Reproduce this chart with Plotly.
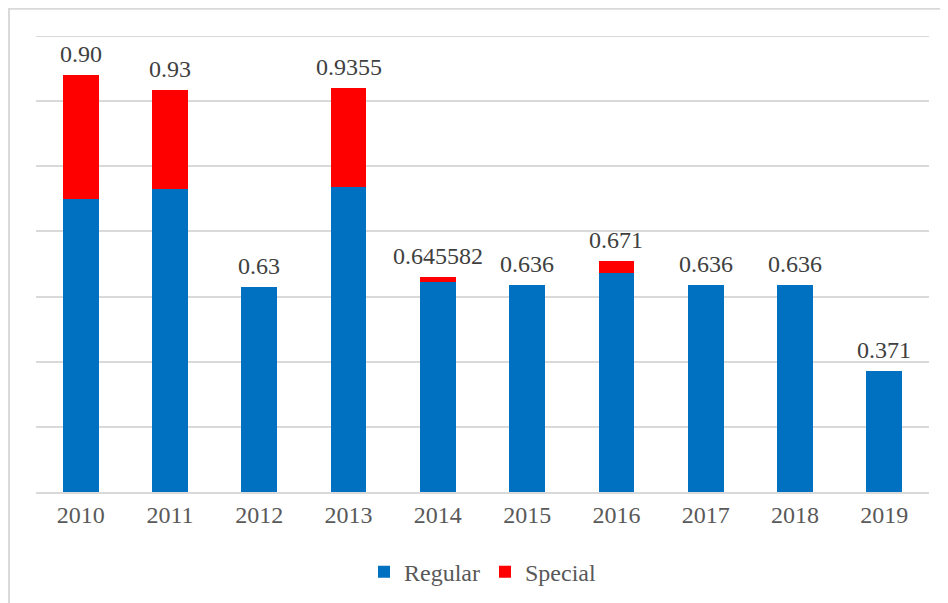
import plotly.graph_objects as go

years = ["2010", "2011", "2012", "2013", "2014", "2015", "2016", "2017", "2018", "2019"]
regular = [0.90, 0.93, 0.63, 0.9355, 0.645582, 0.636, 0.671, 0.636, 0.636, 0.371]
special = [0.38, 0.303, 0.0, 0.305, 0.013, 0.0, 0.038, 0.0, 0.0, 0.0]
labels = ["0.90", "0.93", "0.63", "0.9355", "0.645582", "0.636", "0.671", "0.636", "0.636", "0.371"]
grid_vals = [0.2, 0.4, 0.6, 0.8, 1.0, 1.2, 1.4]

FONT = "Liberation Serif"

fig = go.Figure()
fig.add_trace(go.Bar(x=years, y=regular, name="Regular", marker=dict(color="#0070C0", line=dict(width=0))))
fig.add_trace(go.Bar(x=years, y=special, name="Special", marker=dict(color="#FF0000", line=dict(width=0))))

for i, (r, s, t) in enumerate(zip(regular, special, labels)):
    fig.add_annotation(x=i, y=r + s, text=t, showarrow=False, yanchor="middle", yshift=21,
                       font=dict(family=FONT, size=24, color="#404040"))

# top gridline (at range edge)
fig.add_shape(type="line", xref="paper", yref="y", x0=0, x1=1, y0=grid_vals[-1], y1=grid_vals[-1],
              line=dict(color="#D9D9D9", width=2), layer="below")

# outer chart border (left and top visible)
fig.add_shape(type="rect", xref="paper", yref="paper", x0=-0.0302, x1=1.05, y0=-0.5, y1=1.06,
              line=dict(color="#D9D9D9", width=2), layer="below")

fig.update_layout(
    barmode="stack",
    bargap=0.6,
    width=940, height=595,
    margin=dict(l=28, r=19, t=28, b=111),
    paper_bgcolor="white", plot_bgcolor="white",
    font=dict(family=FONT, size=24, color="#595959"),
    showlegend=True,
    legend=dict(orientation="h", x=0.5, xanchor="center", yref="container", y=0.052, yanchor="middle",
                font=dict(family=FONT, size=24, color="#595959"), itemwidth=30,
                traceorder="normal", itemsizing="constant"),
    xaxis=dict(type="category", range=[-0.5, 9.5], showgrid=False, showline=True, linecolor="#D9D9D9",
               linewidth=2, ticks="", tickfont=dict(family=FONT, size=24, color="#595959")),
    yaxis=dict(range=[0, 1.4], tickvals=grid_vals, showgrid=True,
               gridcolor="#D9D9D9", gridwidth=2, showticklabels=False, zeroline=False, showline=False),
)

fig.write_html("out.html")
